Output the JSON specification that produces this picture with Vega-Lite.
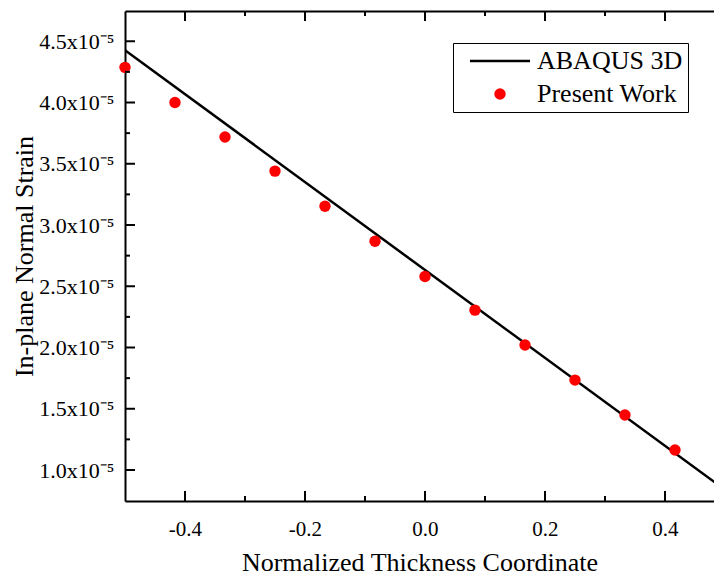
{
  "$schema": "https://vega.github.io/schema/vega-lite/v6.json",
  "width": 589,
  "height": 490,
  "autosize": {"type": "none"},
  "padding": {"left": 125, "top": 11, "right": 0, "bottom": 76},
  "background": "white",
  "config": {"view": {"stroke": null}, "font": "Liberation Serif"},
  "resolve": {"axis": {"x": "independent", "y": "independent"}},
  "datasets": {
    "xticks": [
      {"v": -0.4, "k": "major"}, {"v": -0.3, "k": "minor"}, {"v": -0.2, "k": "major"},
      {"v": -0.1, "k": "minor"}, {"v": 0.0, "k": "major"}, {"v": 0.1, "k": "minor"},
      {"v": 0.2, "k": "major"}, {"v": 0.3, "k": "minor"}, {"v": 0.4, "k": "major"}
    ],
    "yticks": [
      {"v": 1.0e-5, "k": "major"}, {"v": 1.25e-5, "k": "minor"}, {"v": 1.5e-5, "k": "major"},
      {"v": 1.75e-5, "k": "minor"}, {"v": 2.0e-5, "k": "major"}, {"v": 2.25e-5, "k": "minor"},
      {"v": 2.5e-5, "k": "major"}, {"v": 2.75e-5, "k": "minor"}, {"v": 3.0e-5, "k": "major"},
      {"v": 3.25e-5, "k": "minor"}, {"v": 3.5e-5, "k": "major"}, {"v": 3.75e-5, "k": "minor"},
      {"v": 4.0e-5, "k": "major"}, {"v": 4.25e-5, "k": "minor"}, {"v": 4.5e-5, "k": "major"}
    ]
  },
  "layer": [
    {
      "data": {"values": [
        {"x": -0.5, "y": 4.427e-5, "s": "ABAQUS 3D"},
        {"x": 0.5, "y": 0.839e-5, "s": "ABAQUS 3D"}
      ]},
      "mark": {"type": "line", "strokeWidth": 2.5, "clip": true},
      "encoding": {
        "x": {"field": "x", "type": "quantitative",
          "scale": {"domain": [-0.5, 0.4817], "nice": false, "zero": false},
          "axis": {"orient": "bottom", "title": "Normalized Thickness Coordinate",
            "values": [-0.4, -0.2, 0, 0.2, 0.4],
            "labelExpr": "(datum.value < 0 ? '-' : '') + format(abs(datum.value), '.1f')",
            "ticks": false, "domainColor": "black", "domainWidth": 2,
            "grid": false, "labelFont": "Liberation Serif", "labelFontSize": 21, "labelColor": "black",
            "labelPadding": 17, "titleFont": "Liberation Serif", "titleFontSize": 26, "titleFontWeight": "normal",
            "titleColor": "black", "titlePadding": 10, "labelFlush": false}},
        "y": {"field": "y", "type": "quantitative",
          "scale": {"domain": [0.747e-5, 4.747e-5], "nice": false, "zero": false},
          "axis": {"orient": "left", "title": "In-plane Normal Strain",
            "values": [1.0e-5, 1.5e-5, 2.0e-5, 2.5e-5, 3.0e-5, 3.5e-5, 4.0e-5, 4.5e-5],
            "labelExpr": "format(datum.value*1e5, '.1f') + 'x10⁻⁵'",
            "ticks": false, "domainColor": "black", "domainWidth": 2,
            "grid": false, "labelFont": "Liberation Serif", "labelFontSize": 22, "labelColor": "black",
            "labelPadding": 11, "titleFont": "Liberation Serif", "titleFontSize": 26, "titleFontWeight": "normal",
            "titleColor": "black", "titlePadding": 1, "labelFlush": false}},
        "color": {"field": "s", "type": "nominal",
          "scale": {"domain": ["ABAQUS 3D", "Present Work"], "range": ["black", "red"]},
          "legend": {"orient": "none", "legendX": 328, "legendY": 32, "title": null,
            "strokeColor": "black", "fillColor": "white", "padding": 5, "symbolOffset": 29,
            "symbolSize": 130, "labelOffset": 24, "rowPadding": 7, "labelFont": "Liberation Serif", "labelFontSize": 26,
            "labelColor": "black",
            "encode": {"symbols": {"update": {
              "shape": {"signal": "datum.value == 'ABAQUS 3D' ? 'M-5.26,0H5.26' : 'circle'"},
              "size": {"value": 130},
              "strokeWidth": {"signal": "datum.value == 'ABAQUS 3D' ? 2.5 : 0"},
              "stroke": {"signal": "datum.value == 'ABAQUS 3D' ? 'black' : 'transparent'"},
              "fill": {"signal": "datum.value == 'ABAQUS 3D' ? 'transparent' : 'red'"},
              "opacity": {"value": 1}, "fillOpacity": {"value": 1}, "strokeOpacity": {"value": 1}
            }}}}}
      }
    },
    {
      "data": {"values": [
        {"x": -0.5, "y": 4.287e-5, "s": "Present Work"},
        {"x": -0.4167, "y": 4.0e-5, "s": "Present Work"},
        {"x": -0.3333, "y": 3.719e-5, "s": "Present Work"},
        {"x": -0.25, "y": 3.44e-5, "s": "Present Work"},
        {"x": -0.1667, "y": 3.153e-5, "s": "Present Work"},
        {"x": -0.0833, "y": 2.868e-5, "s": "Present Work"},
        {"x": 0.0, "y": 2.58e-5, "s": "Present Work"},
        {"x": 0.0833, "y": 2.305e-5, "s": "Present Work"},
        {"x": 0.1667, "y": 2.02e-5, "s": "Present Work"},
        {"x": 0.25, "y": 1.734e-5, "s": "Present Work"},
        {"x": 0.3333, "y": 1.449e-5, "s": "Present Work"},
        {"x": 0.4167, "y": 1.163e-5, "s": "Present Work"}
      ]},
      "mark": {"type": "point", "shape": "circle", "filled": true, "size": 130, "opacity": 1},
      "encoding": {
        "x": {"field": "x", "type": "quantitative",
          "axis": {"orient": "top", "title": null, "labels": false, "ticks": false,
            "domainColor": "black", "domainWidth": 2, "grid": false}},
        "y": {"field": "y", "type": "quantitative", "axis": null},
        "color": {"field": "s", "type": "nominal",
          "scale": {"domain": ["ABAQUS 3D", "Present Work"], "range": ["black", "red"]},
          "legend": {"orient": "none", "legendX": 328, "legendY": 32, "title": null,
            "strokeColor": "black", "fillColor": "white", "padding": 5, "symbolOffset": 29,
            "symbolSize": 130, "labelOffset": 24, "rowPadding": 7, "labelFont": "Liberation Serif", "labelFontSize": 26,
            "labelColor": "black",
            "encode": {"symbols": {"update": {
              "shape": {"signal": "datum.value == 'ABAQUS 3D' ? 'M-5.26,0H5.26' : 'circle'"},
              "size": {"value": 130},
              "strokeWidth": {"signal": "datum.value == 'ABAQUS 3D' ? 2.5 : 0"},
              "stroke": {"signal": "datum.value == 'ABAQUS 3D' ? 'black' : 'transparent'"},
              "fill": {"signal": "datum.value == 'ABAQUS 3D' ? 'transparent' : 'red'"},
              "opacity": {"value": 1}, "fillOpacity": {"value": 1}, "strokeOpacity": {"value": 1}
            }}}}}
      }
    },
    {
      "data": {"name": "xticks"},
      "mark": {"type": "tick", "orient": "vertical", "thickness": 2, "color": "black", "opacity": 1, "clip": true},
      "encoding": {
        "x": {"field": "v", "type": "quantitative", "axis": null},
        "y": {"datum": 0.747e-5, "type": "quantitative", "axis": null},
        "size": {"field": "k", "type": "ordinal", "scale": {"domain": ["major", "minor"], "range": [20, 10]}, "legend": null}
      }
    },
    {
      "data": {"name": "xticks"},
      "mark": {"type": "tick", "orient": "vertical", "thickness": 2, "color": "black", "opacity": 1, "clip": true},
      "encoding": {
        "x": {"field": "v", "type": "quantitative", "axis": null},
        "y": {"datum": 4.747e-5, "type": "quantitative", "axis": null},
        "size": {"field": "k", "type": "ordinal", "scale": {"domain": ["major", "minor"], "range": [20, 10]}, "legend": null}
      }
    },
    {
      "data": {"name": "yticks"},
      "mark": {"type": "tick", "orient": "horizontal", "thickness": 2, "color": "black", "opacity": 1, "clip": true},
      "encoding": {
        "y": {"field": "v", "type": "quantitative", "axis": null},
        "x": {"datum": -0.5, "type": "quantitative", "axis": null},
        "size": {"field": "k", "type": "ordinal", "scale": {"domain": ["major", "minor"], "range": [20, 10]}, "legend": null}
      }
    }
  ]
}
